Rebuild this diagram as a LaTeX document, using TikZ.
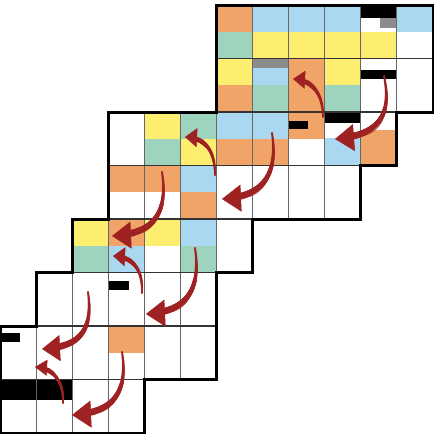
\documentclass[tikz,border=0pt]{standalone}
\usetikzlibrary{arrows.meta,decorations.markings}
\definecolor{orng}{RGB}{241,164,104}
\definecolor{blu}{RGB}{170,216,240}
\definecolor{grn}{RGB}{158,212,190}
\definecolor{yel}{RGB}{253,238,112}
\definecolor{gry}{RGB}{140,140,140}
\definecolor{arrowred}{RGB}{158,34,34}
\tikzset{
  gridv/.style={draw=black!60, line width=0.9pt},
  gridh/.style={draw=black!80, line width=1.2pt},
  outline/.style={draw=black, line width=3pt, line join=miter},
}
\newcommand\tophalf[3]{\fill[#3] (#1,#2) rectangle ({#1+1},{#2+0.5});}
\newcommand\bothalf[3]{\fill[#3] (#1,{#2+0.5}) rectangle ({#1+1},{#2+1});}
\newcommand\cellpart[7]{\fill[#7] ({#1+#3},{#2+#4}) rectangle ({#1+#5},{#2+#6});}
\newcommand\gridrow[3]{%
  \foreach \gc in {#2,...,#3} {\draw[gridv] (\gc,#1) -- (\gc,{#1+1});}
  \draw[gridh] (#2,#1) -- (#3,#1);
  \draw[gridh] (#2,{#1+1}) -- (#3,{#1+1});}
\newcommand\taperarrow[4]{%
  \path[decoration={markings, mark=between positions 0 and -#3 step 0.7pt with {%
      \pgfmathsetmacro\tpr{1.0+(#2-1.0)*(\pgfkeysvalueof{/pgf/decoration/mark info/distance from start})/(\pgfdecoratedpathlength)}%
      \fill[arrowred] (0,0) circle[radius=\tpr pt];}}, decorate] #1;
  \draw[arrowred, line width=0.5pt, -{Triangle[length=#3,width=#4]}] #1;}
\begin{document}
\begin{tikzpicture}[x=1pt,y=-1pt]
\useasboundingbox (0,0) rectangle (434,434);
\fill[white] (0,0) rectangle (434,434);
\begin{scope}[shift={(0pt,-5pt)}, x=36.083pt, y=-53.5pt]
  % row 0
  \tophalf{6}{0}{orng} \bothalf{6}{0}{grn}
  \foreach \c in {7,8,9} {\tophalf{\c}{0}{blu} \bothalf{\c}{0}{yel}}
  \cellpart{10}{0}{0}{0}{1}{0.24}{black}
  \cellpart{10}{0}{0.53}{0.24}{1}{0.43}{gry}
  \bothalf{10}{0}{yel}
  \tophalf{11}{0}{blu}
  % row 1
  \tophalf{6}{1}{yel} \bothalf{6}{1}{orng}
  \cellpart{7}{1}{0}{0}{1}{0.17}{gry}
  \cellpart{7}{1}{0}{0.17}{1}{0.5}{blu}
  \bothalf{7}{1}{grn}
  \tophalf{8}{1}{orng} \bothalf{8}{1}{orng}
  \tophalf{9}{1}{yel} \bothalf{9}{1}{grn}
  \cellpart{10}{1}{0}{0.215}{1}{0.383}{black}
  % row 2
  \tophalf{4}{2}{yel} \bothalf{4}{2}{grn}
  \tophalf{5}{2}{grn} \bothalf{5}{2}{yel}
  \tophalf{6}{2}{blu} \bothalf{6}{2}{orng}
  \tophalf{7}{2}{blu} \bothalf{7}{2}{orng}
  \tophalf{8}{2}{orng}
  \cellpart{8}{2}{0}{0.168}{0.54}{0.318}{black}
  \cellpart{9}{2}{0}{0}{1}{0.205}{black}
  \cellpart{9}{2}{0}{0.48}{1}{1}{blu}
  \cellpart{10}{2}{0}{0.34}{1}{1}{orng}
  % row 3
  \tophalf{3}{3}{orng} \tophalf{4}{3}{orng}
  \tophalf{5}{3}{blu} \bothalf{5}{3}{orng}
  % row 4
  \tophalf{2}{4}{yel} \bothalf{2}{4}{grn}
  \tophalf{3}{4}{orng} \bothalf{3}{4}{blu}
  \tophalf{4}{4}{yel}
  \tophalf{5}{4}{blu} \bothalf{5}{4}{grn}
  % row 5
  \cellpart{3}{5}{0}{0.16}{0.57}{0.33}{black}
  % row 6
  \cellpart{0}{6}{0}{0.13}{0.56}{0.30}{black}
  \tophalf{3}{6}{orng}
  % row 7
  \cellpart{0}{7}{0}{0}{2}{0.39}{black}
  % grid
  \gridrow{0}{6}{12}
  \gridrow{1}{6}{12}
  \gridrow{2}{3}{11}
  \gridrow{3}{3}{10}
  \gridrow{4}{2}{7}
  \gridrow{5}{1}{6}
  \gridrow{6}{0}{6}
  \gridrow{7}{0}{4}
  % outline
  \draw[outline] (6,0) -- (12,0) -- (12,2) -- (11,2) -- (11,3) -- (10,3) -- (10,4)
    -- (7,4) -- (7,5) -- (6,5) -- (6,7) -- (4,7) -- (4,8) -- (0,8) -- (0,6)
    -- (1,6) -- (1,5) -- (2,5) -- (2,4) -- (3,4) -- (3,2) -- (6,2) -- cycle;
\end{scope}
% arrows
\taperarrow{(384,76) .. controls (390,105) and (388,135) .. (335,139)}{4.0}{19pt}{27pt}
\taperarrow{(323,117) .. controls (323,92) and (311,80) .. (293,79)}{2.8}{12pt}{18pt}
\taperarrow{(272,133) .. controls (278,172) and (265,197) .. (222,199)}{4.0}{19pt}{27pt}
\taperarrow{(215,175) .. controls (215,150) and (205,138) .. (185,137)}{2.8}{12pt}{19pt}
\taperarrow{(162,172) .. controls (168,212) and (155,234) .. (112,236)}{4.0}{19pt}{27pt}
\taperarrow{(142,293) .. controls (143,268) and (132,257) .. (113,256)}{2.8}{12pt}{19pt}
\taperarrow{(195,248) .. controls (201,288) and (188,312) .. (146,314)}{4.0}{19pt}{27pt}
\taperarrow{(88,292) .. controls (93,328) and (82,347) .. (42,349)}{4.0}{18pt}{26pt}
\taperarrow{(63,403) .. controls (64,380) and (52,368) .. (35,367)}{2.6}{12pt}{16pt}
\taperarrow{(122,352) .. controls (128,390) and (115,413) .. (72,415)}{4.0}{19pt}{27pt}
\end{tikzpicture}
\end{document}
